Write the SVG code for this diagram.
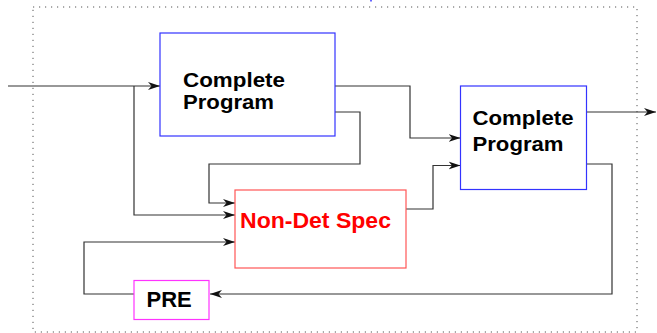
<svg xmlns="http://www.w3.org/2000/svg" width="657" height="333" viewBox="0 0 657 333">
<style>
  .lbl { font-family: "Liberation Sans", Arial, sans-serif; font-weight: bold; font-size: 22px; }
  .sm { font-size: 20px; }
  .blk { fill: #000; }
  .red { fill: #ff0000; }
  .prog { fill: #fff; stroke: #3333ff; stroke-width: 1.2; }
  .spec { fill: #fff; stroke: #ff5555; stroke-width: 1.2; }
  .pre { fill: #fff; stroke: #ff33ff; stroke-width: 1.2; }
  .conn path { fill: none; stroke: #333; stroke-width: 1.2; }
</style>
<defs>
  <marker id="arr" markerUnits="userSpaceOnUse" markerWidth="13" markerHeight="9" refX="12" refY="4.5" orient="auto">
    <path d="M0,0.5 L12,4.5 L0,8.5 L3.5,4.5 z" fill="#111"/>
  </marker>
</defs>
<rect x="0" y="0" width="657" height="333" fill="#fff"/>
<rect x="33" y="7" width="604" height="325" fill="none" stroke="#555" stroke-width="1" stroke-dasharray="1.2 4.8"/>
<rect x="370" y="0" width="2" height="1.5" fill="#6666ff"/>

<g class="conn">
  <path d="M8,86 H160" marker-end="url(#arr)"/>
  <path d="M134,86 V215 H235" marker-end="url(#arr)"/>
  <path d="M335,86 H410 V138 H460.5" marker-end="url(#arr)"/>
  <path d="M335,112 H360 V164 H209 V203 H235" marker-end="url(#arr)"/>
  <path d="M406,209 H433 V165.5 H460.5" marker-end="url(#arr)"/>
  <path d="M586,112 H656" marker-end="url(#arr)"/>
  <path d="M586,164 H612 V294 H210" marker-end="url(#arr)"/>
  <path d="M134,294 H84 V242 H235" marker-end="url(#arr)"/>
</g>

<g id="prog1">
  <rect class="prog" x="160" y="33" width="175" height="103"/>
  <text class="lbl sm blk" x="183" y="87" textLength="102" lengthAdjust="spacingAndGlyphs">Complete</text>
  <text class="lbl sm blk" x="183" y="108.5" textLength="91" lengthAdjust="spacingAndGlyphs">Program</text>
</g>
<g id="prog2">
  <rect class="prog" x="460.5" y="86" width="126" height="103.5"/>
  <text class="lbl sm blk" x="472.5" y="125" textLength="101" lengthAdjust="spacingAndGlyphs">Complete</text>
  <text class="lbl sm blk" x="472.5" y="151" textLength="91" lengthAdjust="spacingAndGlyphs">Program</text>
</g>
<g id="spec">
  <rect class="spec" x="235" y="190" width="171" height="78"/>
  <text class="lbl red" x="240" y="228" textLength="151" lengthAdjust="spacingAndGlyphs">Non-Det Spec</text>
</g>
<g id="pre">
  <rect class="pre" x="134" y="280.5" width="75" height="39"/>
  <text class="lbl blk" x="146.5" y="307">PRE</text>
</g>
</svg>
